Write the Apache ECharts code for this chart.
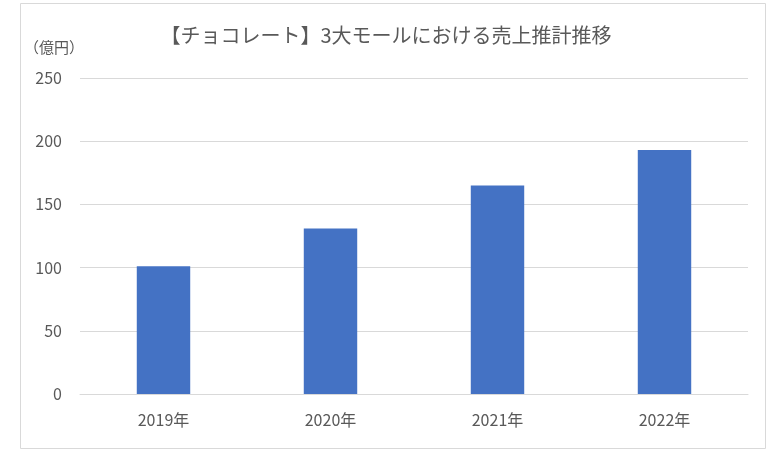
<!DOCTYPE html>
<html>
<head>
<meta charset="utf-8">
<script src="https://cdn.jsdelivr.net/npm/echarts@6/dist/echarts.min.js"></script>
<style>
    html, body { margin: 0; padding: 0; background: #fff; }
    #chart { width: 772px; height: 452px; }
</style>
</head>
<body>
<div id="chart"></div>
<script>
const years = ['2019年', '2020年', '2021年', '2022年']
const sales = [101, 131, 165, 193]
const yTicks = [0, 50, 100, 150, 200, 250]

const font = '"Noto Sans CJK JP", "Noto Sans", sans-serif'
const chart = echarts.init(document.getElementById('chart'))

chart.setOption({
    animation: false,
    textStyle: { fontFamily: font },
    graphic: [{
        type: 'rect',
        shape: { x: 20.5, y: 3.5, width: 745, height: 445 },
        style: { fill: 'none', stroke: '#d9d9d9', lineWidth: 1 },
    }, {
        // unit label top-left, outside the axis name flow
        type: 'text',
        left: 24,
        top: 40,
        style: {
            text: '（億円）',
            fill: '#595959',
            font: '15px ' + font,
        },
    }],
    title: {
        text: '【チョコレート】3大モールにおける売上推計推移',
        left: 'center',
        top: 20,
        textStyle: {
            fontFamily: font,
            fontSize: 20,
            fontWeight: 'normal',
            color: '#595959',
        },
    },
    grid: {
        left: 80,
        right: 24,
        top: 78,
        bottom: 58,
    },
    xAxis: {
        type: 'category',
        data: years,
        axisTick: { show: false },
        axisLine: { lineStyle: { color: '#d9d9d9', width: 1 } },
        axisLabel: {
            color: '#595959',
            fontSize: 16,
            margin: 18,
            fontFamily: font,
        },
    },
    yAxis: {
        type: 'value',
        min: yTicks[0],
        max: yTicks[yTicks.length - 1],
        interval: 50,
        axisLine: { show: false },
        axisTick: { show: false },
        axisLabel: {
            color: '#595959',
            fontSize: 16,
            margin: 18,
            fontFamily: font,
        },
        splitLine: { lineStyle: { color: '#d9d9d9', width: 1 } },
    },
    series: [{
        type: 'bar',
        data: sales,
        barWidth: '32%',
        itemStyle: { color: '#4472c4' },
    }],
})
</script>
</body>
</html>
